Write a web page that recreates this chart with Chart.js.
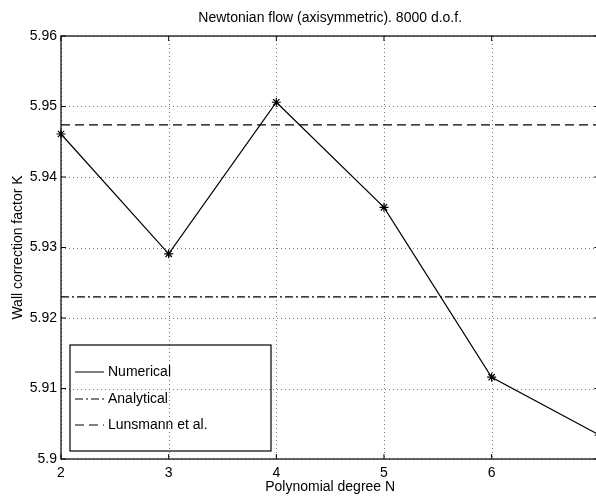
<!DOCTYPE html>
<html>
<head>
<meta charset="utf-8">
<script src="https://cdn.jsdelivr.net/npm/chart.js@4/dist/chart.umd.min.js"></script>
<style>
  html, body { margin: 0; padding: 0; background: #fff; overflow: hidden; }
  #wrap { width: 596px; height: 499px; overflow: hidden; }
</style>
</head>
<body>
<div id="wrap"><canvas id="chart" width="605" height="499"></canvas></div>
<script>
const degrees = [2, 3, 4, 5, 6, 7];
const numerical = [5.9461, 5.9291, 5.9506, 5.9357, 5.9116, 5.9034];
const analytical = 5.9230;
const lunsmann = 5.9474;
const xTicks = [2, 3, 4, 5, 6, 7];
const yTicks = [5.9, 5.91, 5.92, 5.93, 5.94, 5.95, 5.96];

const FONT = 'Liberation Sans, Arial, Helvetica, sans-serif';

// dotted grid behind the data
const dottedGrid = {
  id: 'dottedGrid',
  beforeDatasetsDraw(chart) {
    const { ctx, chartArea: a, scales: { x, y } } = chart;
    ctx.save();
    ctx.strokeStyle = '#777';
    ctx.lineWidth = 1;
    ctx.setLineDash([1, 3]);
    ctx.beginPath();
    xTicks.forEach(v => {
      const px = Math.round(x.getPixelForValue(v)) + 0.5;
      ctx.moveTo(px, a.top); ctx.lineTo(px, a.bottom);
    });
    yTicks.forEach(v => {
      const py = Math.round(y.getPixelForValue(v)) + 0.5;
      ctx.moveTo(a.left, py); ctx.lineTo(a.right, py);
    });
    ctx.stroke();
    ctx.restore();
  }
};

// MATLAB-like frame, inward ticks, title and legend box
const decor = {
  id: 'decor',
  afterDraw(chart) {
    const { ctx, chartArea: a, scales: { x, y } } = chart;
    ctx.save();
    ctx.strokeStyle = '#000';
    ctx.lineWidth = 1.2;
    ctx.setLineDash([]);
    ctx.strokeRect(a.left, a.top, a.right - a.left, a.bottom - a.top);
    ctx.lineWidth = 1;
    ctx.beginPath();
    xTicks.forEach(v => {
      const px = x.getPixelForValue(v);
      ctx.moveTo(px, a.bottom); ctx.lineTo(px, a.bottom - 5);
      ctx.moveTo(px, a.top); ctx.lineTo(px, a.top + 5);
    });
    yTicks.forEach(v => {
      const py = y.getPixelForValue(v);
      ctx.moveTo(a.left, py); ctx.lineTo(a.left + 5, py);
      ctx.moveTo(a.right, py); ctx.lineTo(a.right - 5, py);
    });
    ctx.stroke();

    // title
    ctx.fillStyle = '#000';
    ctx.font = '14px ' + FONT;
    ctx.textAlign = 'center';
    ctx.textBaseline = 'middle';
    ctx.fillText('Newtonian flow (axisymmetric). 8000 d.o.f.', (a.left + a.right) / 2, 18);

    // legend
    const bx = 70, by = 345, bw = 201, bh = 106;
    ctx.lineWidth = 1.2;
    ctx.strokeRect(bx, by, bw, bh);
    ctx.textAlign = 'left';
    const rows = [372, 399, 425];
    chart.data.datasets.forEach((ds, i) => {
      ctx.beginPath();
      ctx.lineWidth = 1;
      ctx.setLineDash(ds.borderDash || []);
      ctx.moveTo(75, rows[i]);
      ctx.lineTo(104, rows[i]);
      ctx.stroke();
      ctx.setLineDash([]);
      ctx.fillText(ds.label, 108, rows[i]);
    });
    ctx.restore();
  }
};

new Chart(document.getElementById('chart'), {
  type: 'line',
  data: {
    datasets: [
      {
        label: 'Numerical',
        data: degrees.map((d, i) => ({ x: d, y: numerical[i] })),
        borderColor: '#000',
        borderWidth: 1.2,
        pointStyle: 'star',
        pointRadius: 4.5,
        pointBorderColor: '#000',
        pointBorderWidth: 1.2,
        clip: false
      },
      {
        label: 'Analytical',
        data: [{ x: 2, y: analytical }, { x: 7, y: analytical }],
        borderColor: '#000',
        borderWidth: 1.2,
        borderDash: [8, 3, 2, 3],
        pointRadius: 0
      },
      {
        label: 'Lunsmann et al.',
        data: [{ x: 2, y: lunsmann }, { x: 7, y: lunsmann }],
        borderColor: '#000',
        borderWidth: 1.2,
        borderDash: [9, 5],
        pointRadius: 0
      }
    ]
  },
  options: {
    responsive: false,
    animation: false,
    devicePixelRatio: 1,
    layout: { padding: { left: 0, top: 36, right: 2, bottom: 0 } },
    plugins: { legend: { display: false }, tooltip: { enabled: false } },
    scales: {
      x: {
        type: 'linear',
        min: 2,
        max: 7,
        afterBuildTicks: s => { s.ticks = xTicks.map(v => ({ value: v })); },
        afterFit: s => { s.height = 40; s.paddingLeft = 0; s.paddingRight = 0; },
        border: { display: false },
        grid: { display: false, drawTicks: false },
        ticks: { color: '#000', padding: 6, font: { family: FONT, size: 14 }, maxRotation: 0 },
        title: { display: true, text: 'Polynomial degree N', color: '#000', font: { family: FONT, size: 14 }, padding: { top: 0, bottom: 3 } }
      },
      y: {
        min: 5.9,
        max: 5.96,
        afterBuildTicks: s => { s.ticks = yTicks.map(v => ({ value: v })); },
        afterFit: s => { s.width = 61; s.paddingTop = 0; s.paddingBottom = 0; },
        border: { display: false },
        grid: { display: false, drawTicks: false },
        ticks: { color: '#000', padding: 4, font: { family: FONT, size: 14 }, callback: v => String(+v.toFixed(2)) },
        title: { display: true, text: 'Wall correction factor K', color: '#000', font: { family: FONT, size: 14 }, padding: { top: 10, bottom: 0 } }
      }
    }
  },
  plugins: [dottedGrid, decor]
});
</script>
</body>
</html>
